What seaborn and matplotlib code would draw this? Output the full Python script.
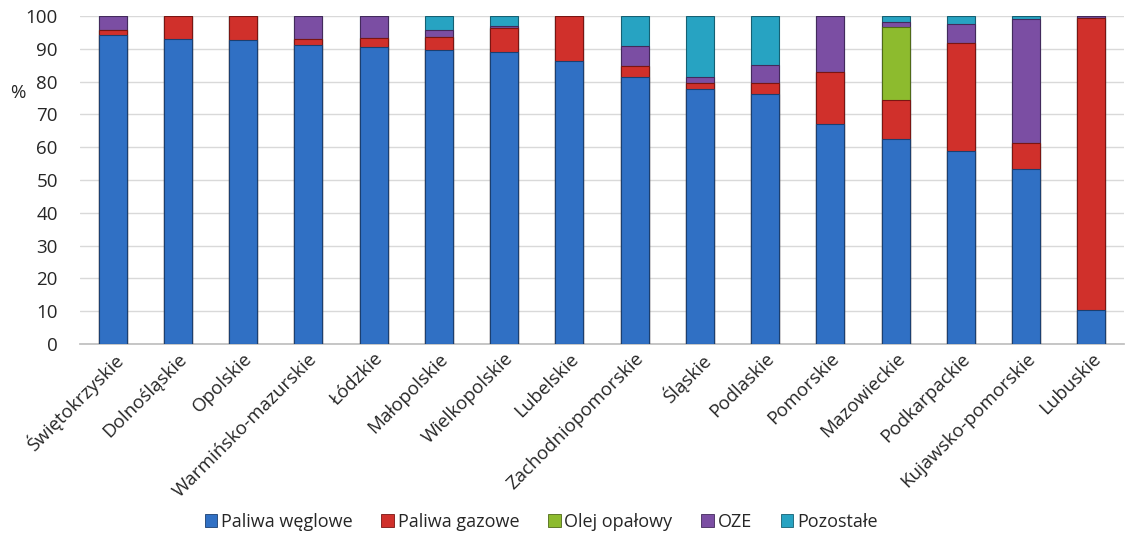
import numpy as np
import pandas as pd
import matplotlib
matplotlib.use("Agg")
import matplotlib.pyplot as plt
from matplotlib.patches import Patch
import seaborn as sns

regions = ["Świętokrzyskie", "Dolnośląskie", "Opolskie", "Warmińsko-mazurskie",
           "Łódzkie", "Małopolskie", "Wielkopolskie", "Lubelskie",
           "Zachodniopomorskie", "Śląskie", "Podlaskie", "Pomorskie",
           "Mazowieckie", "Podkarpackie", "Kujawsko-pomorskie", "Lubuskie"]

paliwa_weglowe = [94.2, 93.0, 92.7, 91.2, 90.7, 89.7, 89.0, 86.3,
                  81.5, 77.8, 76.3, 67.2, 62.6, 58.7, 53.5, 10.5]
paliwa_gazowe = [1.6, 7.0, 7.3, 1.9, 2.5, 3.9, 7.3, 13.7,
                 3.4, 1.8, 3.3, 15.6, 11.9, 33.1, 7.8, 89.0]
olej_opalowy = [0, 0, 0, 0, 0, 0, 0, 0,
                0, 0, 0, 0, 22.3, 0, 0, 0]
oze = [4.2, 0, 0, 6.9, 6.8, 2.1, 0.8, 0,
       6.0, 1.8, 5.5, 17.2, 1.4, 5.7, 37.7, 0.5]
pozostale = [0, 0, 0, 0, 0, 4.3, 2.9, 0,
             9.1, 18.6, 14.9, 0, 1.8, 2.5, 1.0, 0]

series_names = ["Paliwa węglowe", "Paliwa gazowe", "Olej opałowy", "OZE", "Pozostałe"]
series_values = [paliwa_weglowe, paliwa_gazowe, olej_opalowy, oze, pozostale]
colors = ["#3070C4", "#D0302B", "#8DBB2E", "#7B4EA3", "#27A3C2"]
edges = ["#1B3F70", "#7A1512", "#4F6A18", "#432A5C", "#156073"]

df = pd.DataFrame({"region": regions})
for name, vals in zip(series_names, series_values):
    df[name] = vals
cum = df[series_names].cumsum(axis=1)

sns.set_theme(style="white")
plt.rcParams["font.family"] = ["Open Sans", "DejaVu Sans"]

fig = plt.figure(figsize=(11.25, 5.35), dpi=100)
ax = fig.add_axes([0.0711, 0.357, 0.928, 0.613])

# stacked bars: draw cumulative totals from the top series down
for i in range(len(series_names) - 1, -1, -1):
    plot_df = pd.DataFrame({"region": regions, "value": cum[series_names[i]].values})
    sns.barplot(data=plot_df, x="region", y="value", order=regions,
                color=colors[i], edgecolor=edges[i], linewidth=0.8,
                width=0.43, saturation=1, ax=ax, zorder=3)

ax.set_ylim(0, 100)
ax.set_yticks(np.arange(0, 101, 10))
ax.set_xlim(-0.5, len(regions) - 0.5)
ax.yaxis.grid(True, color="#D9D9D9", linewidth=1.0, zorder=0)
ax.set_axisbelow(True)
for side in ["top", "right", "left"]:
    ax.spines[side].set_visible(False)
ax.spines["bottom"].set_color("#BFBFBF")
ax.set_xlabel("")
ax.set_ylabel("")
ax.tick_params(axis="y", labelsize=13.5, colors="#262626", length=0, pad=16)
ax.tick_params(axis="x", labelsize=13.5, colors="#262626", length=0, pad=4)
ax.set_xticks(range(len(regions)))
ax.set_xticklabels(regions, rotation=45, ha="right", rotation_mode="anchor")

fig.text(0.009, 0.826, "%", fontsize=13.5, color="#262626", va="center", ha="left")

handles = [Patch(facecolor=c, edgecolor=e, linewidth=0.6) for c, e in zip(colors, edges)]
fig.legend(handles, series_names, loc="center", bbox_to_anchor=(0.481, 0.025),
           ncol=5, frameon=False, fontsize=13, handlelength=0.7, handleheight=0.7,
           handletextpad=0.2, columnspacing=1.6, labelcolor="#262626")

fig.savefig("out.png", dpi=100)
